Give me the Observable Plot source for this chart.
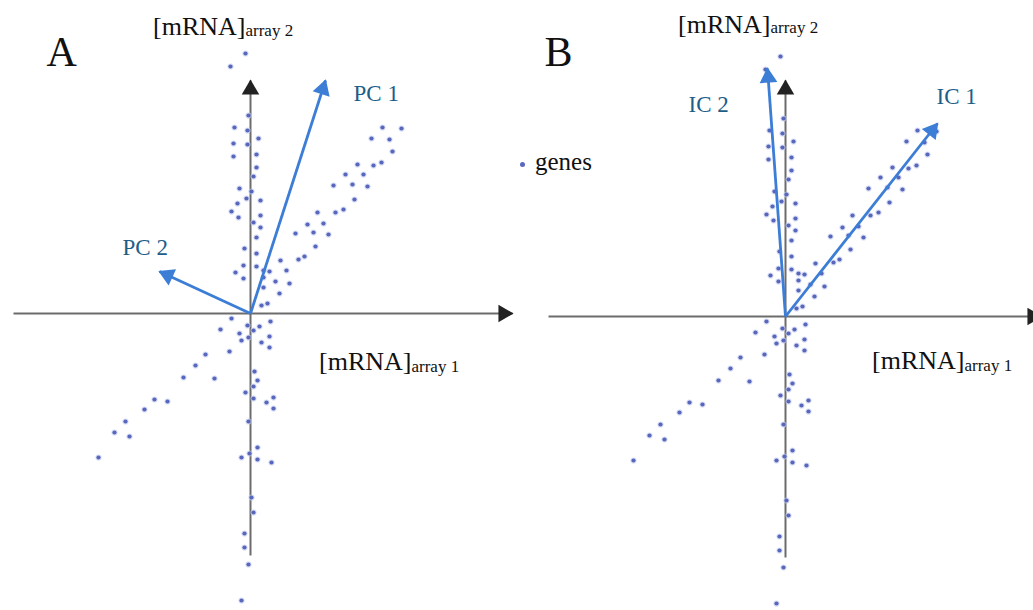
<!DOCTYPE html>
<html><head><meta charset="utf-8">
<script src="https://cdn.jsdelivr.net/npm/d3@7"></script>
<script src="https://cdn.jsdelivr.net/npm/@observablehq/plot@0.6"></script>
<style>
body{margin:0;background:#fff;}
#wrap{position:relative;width:1033px;height:610px;display:flex;overflow:hidden;}
#wrap svg{display:block;}
#legDot{position:absolute;left:519.5px;top:161.5px;width:5px;height:5px;border-radius:50%;background:#5a68be;}
#legText{position:absolute;left:535px;top:149px;font-family:"Liberation Serif","Times New Roman",serif;font-size:25px;line-height:1;color:#111;}
</style></head>
<body>
<div id="wrap"><div id="legDot"></div><div id="legText">genes</div></div>
<script>
// gene expression values (arbitrary units; x = array 1, y = array 2)
const genesX = [-0.5,-2.0,-0.2,-1.6,-0.3,0.8,-1.7,-0.3,-1.7,0.6,0.6,0.3,-1.1,0.1,-0.4,-1.3,1.0,-1.9,-1.2,1.0,0.3,1.0,0.6,-0.6,0.6,0.6,-0.7,-1.5,-0.7,1.3,1.9,1.3,2.5,3.0,3.6,3.9,2.9,1.3,1.1,1.7,
13.2,15.1,12.1,13.9,14.2,13.1,12.3,10.7,9.5,11.3,8.3,10.2,11.7,10.4,9.3,8.5,6.7,5.7,7.3,4.5,6.3,7.8,6.5,5.4,4.8,
-1.9,-3.0,-1.1,-0.3,0.3,0.9,2.0,1.9,1.9,1.1,-0.9,-0.2,-2.1,-4.5,-5.5,-6.7,-3.6,0.4,0.7,0.3,-0.5,0.3,1.6,2.3,2.3,-9.6,-8.3,-10.6,-12.5,-13.6,-12.1,-15.2,-0.2,0.7,-0.1,-0.9,0.7,2.1,0.1,0.3,-0.6,-0.6,-0.2,-0.9];
const genesY = [26.0,24.7,19.8,18.6,18.3,17.5,17.0,16.9,15.7,15.9,14.6,13.7,12.5,12.2,11.5,11.0,11.3,10.2,9.6,9.8,9.1,8.6,7.6,6.5,6.0,4.7,4.8,4.1,3.5,4.3,4.2,3.6,3.2,5.3,4.3,3.0,2.0,2.6,0.8,1.0,
18.6,18.5,17.5,17.4,16.2,15.1,14.8,14.9,13.9,13.9,12.8,12.9,12.7,11.4,10.4,10.1,10.1,8.9,9.0,8.0,8.1,7.9,6.7,5.7,5.4,
-0.5,-1.6,-2.0,-1.2,-1.7,-1.3,-0.8,-2.3,-3.4,-2.9,-2.7,-2.4,-3.8,-4.1,-5.2,-6.4,-6.5,-5.8,-6.7,-7.3,-7.9,-8.5,-8.9,-8.4,-9.5,-8.6,-8.8,-9.6,-10.8,-11.9,-12.3,-14.4,-10.8,-13.4,-14.0,-14.4,-14.6,-14.9,-18.4,-19.9,-22.0,-23.4,-25.1,-28.7];

// component vectors (tips)
const pcNames = ["PC 1", "PC 2"];
const pcX = [7.5, -9.1];
const pcY = [23.3, 4.2];
const icNames = ["IC 1", "IC 2"];
const icX = [15.2, -1.8];
const icY = [19.3, 24.8];

const genes = genesX.map((x, i) => ({x, y: genesY[i]}));

const serif = "Liberation Serif, Times New Roman, serif";
const BLUE = "#3c7dd6", LABEL = "#1d5e88", AXIS = "#6c6c6c", HEAD = "#222";

function heads(tips, pxOff, ppu) {
  return tips.map(t => {
    const len = Math.hypot(t.x, t.y);
    const ux = t.x / len, uy = t.y / len;
    const o = pxOff / ppu;
    return {x: t.x - ux * o, y: t.y - uy * o, rot: Math.atan2(t.x, t.y) * 180 / Math.PI};
  });
}

function panel(cfg) {
  const ppu = cfg.width / (cfg.xDomain[1] - cfg.xDomain[0]);
  const ax = cfg.axis;
  const axesLines = [
    {x1: ax.xMin, y1: 0, x2: ax.xMax, y2: 0},
    {x1: 0, y1: ax.yMin, x2: 0, y2: ax.yMax}
  ];
  const axisTips = [{x: ax.xMax, y: 0}, {x: 0, y: ax.yMax}];
  const vecs = cfg.names.map((n, i) => ({name: n, x: cfg.vx[i], y: cfg.vy[i]}));
  return Plot.plot({
    width: cfg.width, height: 610,
    marginTop: 0, marginRight: 0, marginBottom: 0, marginLeft: 0,
    x: {domain: cfg.xDomain, axis: null},
    y: {domain: cfg.yDomain, axis: null},
    style: {fontFamily: serif, background: "transparent"},
    marks: [
      Plot.link(axesLines, {x1: "x1", y1: "y1", x2: "x2", y2: "y2", stroke: AXIS, strokeWidth: 2}),
      Plot.dot(heads(axisTips, 9, ppu), {x: "x", y: "y", rotate: "rot", symbol: "triangle", r: 6.5, fill: HEAD, stroke: "none"}),
      Plot.dot(genes, {x: "x", y: "y", r: 3.1, fill: "#c3ccef", stroke: "none", fillOpacity: 0.65}),
      Plot.dot(genes, {x: "x", y: "y", r: 2.1, fill: "#5866bc", stroke: "none"}),
      Plot.link(vecs, {x1: () => 0, y1: () => 0, x2: "x", y2: "y", stroke: BLUE, strokeWidth: 2.8}),
      Plot.dot(heads(vecs, 9, ppu), {x: "x", y: "y", rotate: "rot", symbol: "triangle", r: 6.6, fill: BLUE, stroke: "none"}),
      Plot.text(cfg.vecLabels, {x: "x", y: "y", text: "text", textAnchor: "start", fontSize: 23, fill: LABEL, fontFamily: serif}),
      Plot.text(cfg.axisLabels, {x: "x", y: "y", text: d => "[mRNA]", textAnchor: "end", fontSize: 26, fill: "#111", fontFamily: serif}),
      Plot.text(cfg.axisLabels, {x: "x", y: "ys", text: "sub", textAnchor: "start", fontSize: 17, fill: "#111", fontFamily: serif}),
      Plot.text([cfg.letter], {x: "x", y: "y", text: "text", textAnchor: "start", fontSize: 42, fill: "#111", fontFamily: serif})
    ]
  });
}

const wrap = document.getElementById("wrap");
const A = panel({
  width: 516, xDomain: [-25.0, 26.6], yDomain: [-29.7, 31.3],
  axis: {xMin: -23.7, xMax: 26.2, yMin: -24.2, yMax: 23.3},
  names: pcNames, vx: pcX, vy: pcY,
  vecLabels: [{text: "PC 1", x: 10.3, y: 22.0}, {text: "PC 2", x: -12.8, y: 6.6}],
  axisLabels: [{x: -0.5, y: 28.7, ys: 28.3, sub: "array 2"}, {x: 16.1, y: -4.8, ys: -5.3, sub: "array 1"}],
  letter: {text: "A", x: -20.4, y: 26.1}
});
const B = panel({
  width: 517, xDomain: [-26.9, 24.8], yDomain: [-29.4, 31.6],
  axis: {xMin: -23.7, xMax: 25.6, yMin: -24.1, yMax: 23.6},
  names: icNames, vx: icX, vy: icY,
  vecLabels: [{text: "IC 1", x: 15.1, y: 22.0}, {text: "IC 2", x: -9.7, y: 21.2}],
  axisLabels: [{x: -1.5, y: 29.2, ys: 28.9, sub: "array 2"}, {x: 17.9, y: -4.4, ys: -4.9, sub: "array 1"}],
  letter: {text: "B", x: -24.1, y: 26.4}
});
wrap.insertBefore(B, wrap.firstChild);
wrap.insertBefore(A, wrap.firstChild);
</script>
</body></html>
